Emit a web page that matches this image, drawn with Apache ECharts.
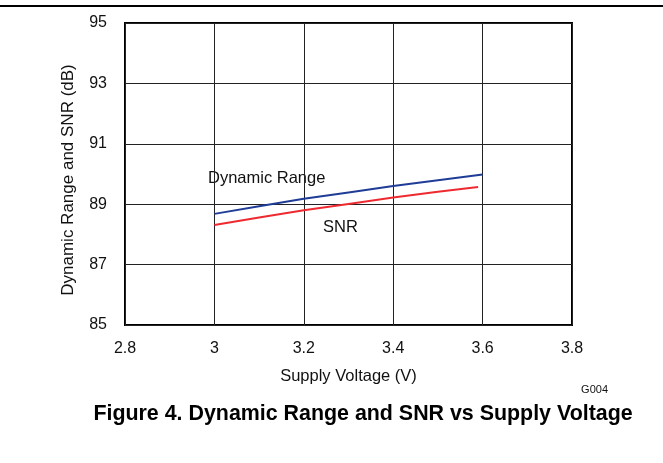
<!DOCTYPE html>
<html><head><meta charset="utf-8">
<script src="https://cdn.jsdelivr.net/npm/echarts@6/dist/echarts.min.js"></script>
<style>html,body{margin:0;padding:0;background:#fff}#c{width:663px;height:463px}</style>
</head><body><div id="c"></div>
<script>
const voltage = [3.0, 3.1, 3.2, 3.3, 3.4, 3.5, 3.6];
const dynamicRange = [88.68, 88.93, 89.18, 89.39, 89.60, 89.79, 89.98];
const snrVoltage = [3.0, 3.1, 3.2, 3.3, 3.4, 3.5, 3.59];
const snr = [88.31, 88.56, 88.80, 89.01, 89.22, 89.41, 89.57];
const xTicks = [2.8, 3.0, 3.2, 3.4, 3.6, 3.8];
const yTicks = [85, 87, 89, 91, 93, 95];

const chart = echarts.init(document.getElementById('c'), null, {renderer: 'canvas'});
const font = 'Liberation Sans, Arial, sans-serif';
chart.setOption({
  animation: false,
  grid: {left: 125, right: 91, top: 23, bottom: 138, show: true, borderColor: '#000', borderWidth: 2, backgroundColor: 'transparent'},
  xAxis: {
    type: 'value', min: xTicks[0], max: xTicks[xTicks.length-1], interval: 0.2,
    axisLine: {show: false}, axisTick: {show: false},
    splitLine: {show: true, lineStyle: {color: '#222', width: 1}},
    axisLabel: {color: '#111', fontFamily: font, fontSize: 16, margin: 16,
      formatter: v => String(parseFloat(v.toFixed(1)))},
    name: 'Supply Voltage (V)', nameLocation: 'middle', nameGap: 43,
    nameTextStyle: {color: '#111', fontFamily: font, fontSize: 16.5}
  },
  yAxis: {
    type: 'value', min: yTicks[0], max: yTicks[yTicks.length-1], interval: 2,
    axisLine: {show: false}, axisTick: {show: false},
    splitLine: {show: true, lineStyle: {color: '#222', width: 1}},
    axisLabel: {color: '#111', fontFamily: font, fontSize: 16, margin: 18},
    name: 'Dynamic Range and SNR (dB)', nameLocation: 'middle', nameGap: 48,
    nameTextStyle: {color: '#111', fontFamily: font, fontSize: 17, padding: [0, 12, 0, 0]}
  },
  series: [
    {type: 'line', data: voltage.map((v, i) => [v, dynamicRange[i]]), showSymbol: false,
     lineStyle: {color: '#1f3c96', width: 2}, z: 3},
    {type: 'line', data: snrVoltage.map((v, i) => [v, snr[i]]), showSymbol: false,
     lineStyle: {color: '#ee2a30', width: 2}, z: 3}
  ],
  graphic: [
    {type: 'rect', left: 0, top: 5, shape: {width: 663, height: 2}, style: {fill: '#000'}},
    {type: 'text', x: 207, y: 178, style: {text: 'Dynamic Range', font: '16.5px ' + font, fill: '#111', backgroundColor: '#fff', textVerticalAlign: 'middle', padding: [2, 1]}},
    {type: 'text', x: 323, y: 227, style: {text: 'SNR', font: '16.5px ' + font, fill: '#111', backgroundColor: '#fff', textVerticalAlign: 'middle'}},
    {type: 'text', x: 608, y: 390, style: {text: 'G004', font: '11px ' + font, fill: '#111', textAlign: 'right', textVerticalAlign: 'middle'}},
    {type: 'text', x: 363, y: 414, style: {text: 'Figure 4. Dynamic Range and SNR vs Supply Voltage', font: 'bold 21.4px ' + font, fill: '#000', textAlign: 'center', textVerticalAlign: 'middle'}}
  ]
});
</script></body></html>
